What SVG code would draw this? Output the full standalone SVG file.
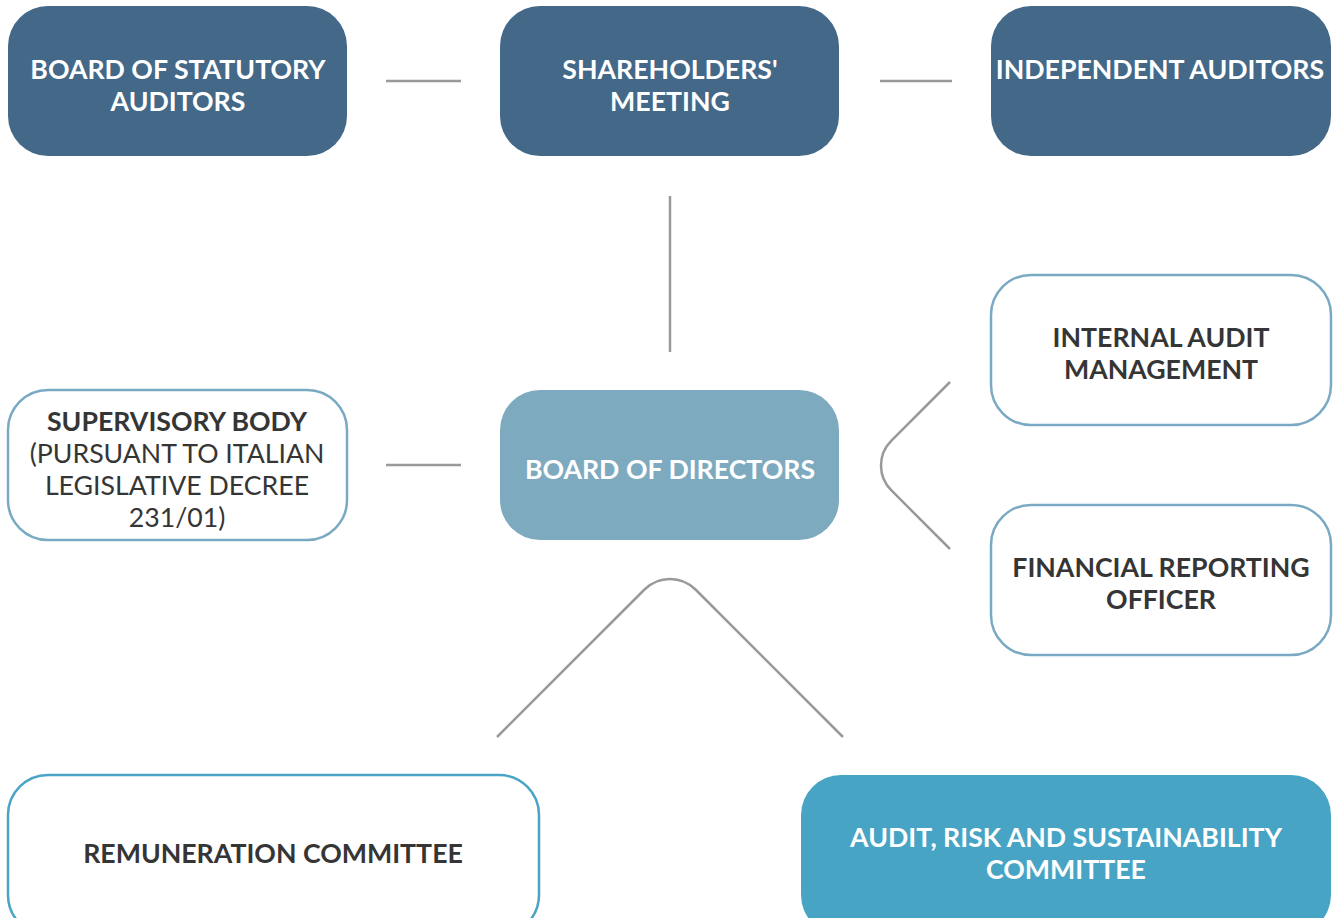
<svg xmlns="http://www.w3.org/2000/svg" width="1336" height="918" viewBox="0 0 1336 918">
<style>
.t{font-family:Lato,"Noto Sans","Liberation Sans",sans-serif;font-size:26.7px;text-anchor:middle;font-weight:bold}
.w{fill:#ffffff}
.d{fill:#363535}
.n{font-weight:normal}
.dark{fill:#436888}
.mid{fill:#7eaac0}
.teal{fill:#48a4c5}
.out{fill:#ffffff;stroke:#7aaac3;stroke-width:2.5}
.out2{fill:#ffffff;stroke:#4aa4c6;stroke-width:2.5}
.c{fill:none;stroke:#999999;stroke-width:2.5}
</style>
<rect width="1336" height="918" fill="#ffffff"/>
<g id="connectors">
<line class="c" x1="386" y1="81" x2="461" y2="81"/>
<line class="c" x1="880" y1="81" x2="952" y2="81"/>
<line class="c" x1="670" y1="196" x2="670" y2="352"/>
<line class="c" x1="386" y1="465" x2="461" y2="465"/>
<path class="c" d="M950,382 L891.2,440.8 A35,35 0 0 0 891.2,490.2 L950,549"/>
<path class="c" d="M497,737 L644.5,589.5 A36,36 0 0 1 695.5,589.5 L843,737"/>
</g>
<g id="statutory">
<rect class="dark" x="8" y="6" width="339" height="150" rx="40"/>
<text class="t w" x="178" y="79">BOARD OF STATUTORY</text>
<text class="t w" x="178" y="111">AUDITORS</text>
</g>
<g id="shareholders">
<rect class="dark" x="500" y="6" width="339" height="150" rx="40"/>
<text class="t w" x="670" y="79">SHAREHOLDERS'</text>
<text class="t w" x="670" y="111">MEETING</text>
</g>
<g id="independent">
<rect class="dark" x="991" y="6" width="340" height="150" rx="40"/>
<text class="t w" x="1160" y="79">INDEPENDENT AUDITORS</text>
</g>
<g id="internal">
<rect class="out" x="991" y="275" width="340" height="150" rx="40"/>
<text class="t d" x="1161" y="347">INTERNAL AUDIT</text>
<text class="t d" x="1161" y="379">MANAGEMENT</text>
</g>
<g id="supervisory">
<rect class="out" x="8" y="390" width="339" height="150" rx="40"/>
<text class="t d" x="177" y="431">SUPERVISORY BODY</text>
<text class="t d n" x="177" y="463">(PURSUANT TO ITALIAN</text>
<text class="t d n" x="177" y="495">LEGISLATIVE DECREE</text>
<text class="t d n" x="177" y="527">231/01)</text>
</g>
<g id="directors">
<rect class="mid" x="500" y="390" width="339" height="150" rx="40"/>
<text class="t w" x="670" y="479">BOARD OF DIRECTORS</text>
</g>
<g id="financial">
<rect class="out" x="991" y="505" width="340" height="150" rx="40"/>
<text class="t d" x="1161" y="577">FINANCIAL REPORTING</text>
<text class="t d" x="1161" y="609">OFFICER</text>
</g>
<g id="remuneration">
<rect class="out2" x="8" y="775" width="531" height="160" rx="40"/>
<text class="t d" x="273" y="863">REMUNERATION COMMITTEE</text>
</g>
<g id="audit">
<rect class="teal" x="801" y="775" width="530" height="160" rx="40"/>
<text class="t w" x="1066" y="847">AUDIT, RISK AND SUSTAINABILITY</text>
<text class="t w" x="1066" y="879">COMMITTEE</text>
</g>
</svg>
